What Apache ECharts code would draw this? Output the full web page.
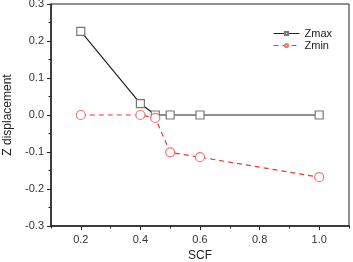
<!DOCTYPE html>
<html>
<head>
<meta charset="utf-8">
<script src="https://cdn.jsdelivr.net/npm/echarts@6/dist/echarts.min.js"></script>
<style>
  html, body { margin: 0; padding: 0; background: #fff; }
  #main { width: 353px; height: 262px; }
</style>
</head>
<body>
<div id="main"></div>
<script>
// data
const scf = [0.2, 0.4, 0.45, 0.5, 0.6, 1.0];
const zmax = [0.226, 0.031, 0.0, 0.0, 0.0, 0.0];
const zmin = [0.0, 0.0, -0.008, -0.101, -0.114, -0.168];
const xMajorTicks = [0.2, 0.4, 0.6, 0.8, 1.0];
const xMinorTicks = [0.1, 0.3, 0.5, 0.7, 0.9, 1.1];

const chart = echarts.init(document.getElementById('main'));
const font = 'Liberation Sans, Arial, sans-serif';

const option = {
    animation: false,
    textStyle: { fontFamily: font },
    grid: {
        left: 51, right: 4, top: 4, bottom: 36,
        outerBoundsMode: 'none', containLabel: false,
        show: true, borderColor: '#222', borderWidth: 1
    },
    legend: {
        right: 16, top: 23,
        orient: 'vertical',
        itemWidth: 26, itemHeight: 4, itemGap: 1,
        lineStyle: { width: 1 },
        textStyle: { fontSize: 11, color: '#222', fontFamily: font },
        data: ['Zmax', 'Zmin']
    },
    xAxis: [{
        type: 'value', min: 0.1, max: 1.1,
        name: 'SCF', nameLocation: 'middle', nameGap: 23,
        nameTextStyle: { fontSize: 12, color: '#222' },
        axisLine: { show: true, onZero: false, lineStyle: { color: '#222', width: 1.5 } },
        axisTick: { show: true, length: 4, customValues: xMajorTicks, lineStyle: { color: '#222' } },
        axisLabel: {
            fontSize: 11, color: '#333', margin: 8,
            customValues: xMajorTicks,
            formatter: v => v.toFixed(1)
        },
        splitLine: { show: false }
    }, {
        type: 'value', min: 0.1, max: 1.1, position: 'bottom',
        axisLine: { show: false, onZero: false },
        axisTick: { show: true, length: 2.5, customValues: xMinorTicks, lineStyle: { color: '#222' } },
        axisLabel: { show: false },
        splitLine: { show: false }
    }],
    yAxis: {
        type: 'value', min: -0.3, max: 0.3, interval: 0.1,
        name: 'Z displacement', nameLocation: 'middle', nameGap: 37,
        nameTextStyle: { fontSize: 12, color: '#222' },
        axisLine: { show: true, onZero: false, lineStyle: { color: '#222', width: 1.5 } },
        axisTick: { show: true, length: 4, lineStyle: { color: '#222' } },
        minorTick: { show: true, splitNumber: 2, length: 2.5, lineStyle: { color: '#222' } },
        axisLabel: { fontSize: 11, color: '#333', margin: 7, formatter: v => v.toFixed(1) },
        splitLine: { show: false }
    },
    series: [{
        name: 'Zmax', type: 'line',
        data: scf.map((x, i) => [x, zmax[i]]),
        symbol: 'rect', symbolSize: 8,
        lineStyle: { color: '#222', width: 1.2 },
        itemStyle: { color: '#fff', borderColor: '#777', borderWidth: 1.2 }
    }, {
        name: 'Zmin', type: 'line',
        data: scf.map((x, i) => [x, zmin[i]]),
        symbol: 'circle', symbolSize: 9,
        lineStyle: { color: '#e8383a', width: 1.2, type: [5, 4] },
        itemStyle: { color: '#fff', borderColor: '#f07878', borderWidth: 1.2 }
    }]
};

chart.setOption(option);
</script>
</body>
</html>
